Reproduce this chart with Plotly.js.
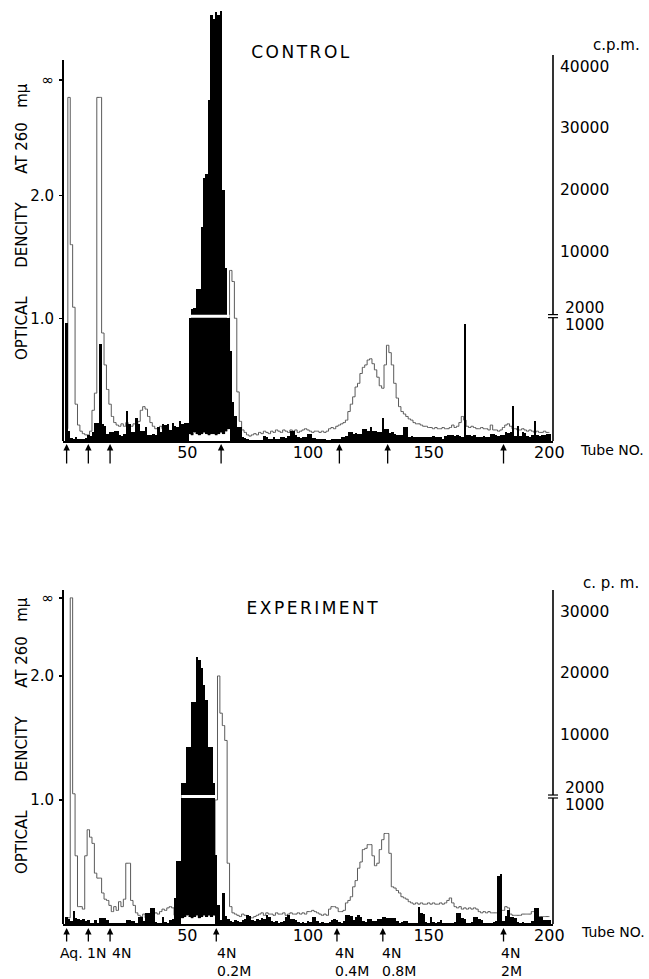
<!DOCTYPE html>
<html><head><meta charset="utf-8">
<script src="https://cdn.plot.ly/plotly-3.0.1.min.js"></script>
<style>
html,body{margin:0;padding:0;background:#fff;}
#chart{width:649px;height:979px;}
.annotation[data-index="0"] text,.annotation[data-index="1"] text{letter-spacing:2.5px;}
</style></head><body><div id="chart"></div>
<script>
// Tube numbers (x categories)
const tubes = Array.from({length: 201}, (_, i) => i);

// CONTROL: optical density at 260 mu (per tube)
const odControl = [
0.10,2.80,1.60,1.09,0.30,0.13,0.08,0.06,0.05,0.05,
0.08,0.25,0.39,2.80,2.80,0.88,0.62,0.42,0.30,0.20,
0.15,0.13,0.12,0.14,0.12,0.15,0.13,0.12,0.14,0.13,
0.16,0.25,0.28,0.26,0.20,0.15,0.12,0.10,0.10,0.12,
0.10,0.10,0.09,0.08,0.08,0.09,0.08,0.08,0.07,0.07,
0.07,0.06,0.05,0.07,0.06,0.05,0.06,0.07,0.06,0.05,
0.06,0.06,0.05,0.06,0.07,0.06,0.08,0.10,1.39,1.30,
1.00,0.40,0.16,0.09,0.07,0.05,0.04,0.05,0.06,0.05,
0.07,0.06,0.08,0.07,0.06,0.08,0.07,0.09,0.08,0.07,
0.09,0.08,0.07,0.09,0.08,0.09,0.07,0.08,0.09,0.10,
0.09,0.08,0.07,0.08,0.08,0.07,0.08,0.07,0.08,0.10,
0.11,0.10,0.12,0.13,0.14,0.15,0.17,0.24,0.30,0.36,
0.44,0.47,0.55,0.60,0.62,0.66,0.67,0.63,0.58,0.52,
0.45,0.43,0.62,0.78,0.72,0.62,0.47,0.35,0.28,0.24,
0.22,0.20,0.18,0.17,0.15,0.14,0.14,0.13,0.12,0.12,
0.11,0.11,0.10,0.11,0.10,0.10,0.11,0.10,0.10,0.11,
0.13,0.11,0.12,0.15,0.20,0.17,0.12,0.11,0.12,0.11,
0.10,0.10,0.11,0.10,0.10,0.09,0.13,0.09,0.09,0.08,
0.09,0.11,0.13,0.14,0.12,0.10,0.10,0.09,0.09,0.10,
0.09,0.08,0.09,0.08,0.07,0.08,0.07,0.07,0.08,0.07,
0.07];

// CONTROL: radioactivity, c.p.m. (per tube)
const cpmControl = [
960,85,25,20,30,20,15,20,25,45,
40,70,150,150,790,140,120,60,70,70,
85,80,45,40,55,240,140,70,70,190,
140,85,85,110,50,45,55,50,110,70,
140,130,140,90,150,125,110,165,140,150,
150,1000,2700,2900,5300,5300,14000,22000,22500,34600,
48500,47800,49000,48500,49200,20000,8000,1000,730,320,
200,110,110,30,25,20,10,12,10,8,
12,10,40,30,15,20,30,15,20,35,
35,25,40,85,85,50,30,25,35,35,
60,60,25,25,20,15,15,15,10,10,
15,15,20,20,35,35,40,70,70,60,
65,55,60,100,100,85,110,85,85,70,
70,190,100,100,65,70,60,50,45,50,
110,110,35,40,30,35,30,30,35,30,
30,35,40,35,30,35,20,40,45,50,
45,40,45,40,30,945,45,50,40,45,
35,30,35,40,30,35,60,55,45,40,
50,45,70,65,70,280,40,125,40,70,
65,40,35,45,165,45,40,50,45,55,
60];

// EXPERIMENT: optical density at 260 mu (per tube)
const odExp = [
0.05,0.05,2.63,1.05,0.55,0.14,0.14,0.12,0.55,0.76,
0.70,0.65,0.41,0.37,0.37,0.25,0.20,0.19,0.15,0.10,
0.14,0.11,0.18,0.14,0.20,0.49,0.49,0.19,0.15,0.09,
0.07,0.06,0.08,0.05,0.07,0.06,0.08,0.09,0.08,0.10,
0.12,0.11,0.13,0.14,0.13,0.07,0.06,0.07,0.05,0.06,
0.07,0.06,0.05,0.06,0.07,0.05,0.06,0.07,0.06,0.07,
0.06,0.07,1.00,2.00,1.70,1.60,1.48,0.49,0.14,0.09,
0.08,0.07,0.06,0.08,0.07,0.06,0.05,0.05,0.06,0.07,
0.08,0.09,0.07,0.09,0.08,0.08,0.07,0.09,0.08,0.08,
0.09,0.07,0.08,0.09,0.08,0.08,0.09,0.08,0.09,0.08,
0.10,0.10,0.11,0.10,0.09,0.08,0.07,0.08,0.07,0.12,
0.14,0.14,0.13,0.10,0.10,0.11,0.17,0.19,0.22,0.30,
0.35,0.45,0.50,0.60,0.61,0.64,0.64,0.55,0.47,0.49,
0.60,0.68,0.73,0.73,0.57,0.30,0.29,0.27,0.25,0.22,
0.21,0.20,0.18,0.17,0.16,0.17,0.16,0.17,0.16,0.16,
0.17,0.16,0.17,0.16,0.16,0.17,0.16,0.17,0.19,0.21,
0.17,0.14,0.13,0.14,0.12,0.13,0.12,0.13,0.12,0.13,
0.12,0.10,0.09,0.10,0.09,0.10,0.09,0.09,0.09,0.09,
0.11,0.11,0.14,0.13,0.08,0.07,0.07,0.07,0.07,0.08,
0.08,0.08,0.08,0.10,0.10,0.10,0.06,0.06,0.06,0.06,
0.06];

// EXPERIMENT: radioactivity, c.p.m. (per tube)
const cpmExp = [
55,40,20,100,45,40,35,40,25,30,
10,10,30,10,45,45,45,30,10,5,
5,5,5,5,10,30,30,20,20,10,
55,55,20,85,85,130,130,15,10,10,
55,15,10,30,40,210,500,500,3600,3600,
8400,8400,15300,15300,22600,22200,20800,18000,15600,8400,
8400,3600,550,150,30,250,60,40,20,15,
30,20,15,30,40,70,60,30,20,40,
30,50,40,70,55,20,15,20,10,15,
20,55,70,40,40,35,15,10,15,10,
20,15,55,55,20,10,15,10,10,15,
35,40,35,15,10,20,70,70,60,30,
55,70,55,20,15,40,40,20,25,40,
40,55,55,50,50,45,50,20,10,15,
25,25,10,5,10,10,135,85,80,15,
10,55,15,10,15,35,10,5,5,10,
5,15,85,85,45,40,10,5,15,55,
55,40,30,10,5,5,10,15,20,380,
400,20,60,110,55,55,50,15,10,15,
10,5,10,20,130,130,55,55,35,35,
30];

// Fraction-change arrows (tube numbers) and their labels
const arrowsControl = [0, 9, 18, 64, 113, 133, 181];
const arrowsExp = [0, 9, 18, 62, 112, 131, 181];
const arrowLabelsExp = ["Aq.", "1N", "4N", "4N<br>0.2M", "4N<br>0.4M", "4N<br>0.8M", "4N<br>2M"];

// Left axis ticks (O.D.) and right axis ticks (c.p.m., broken scale)
const odTickVals = [1, 2];
const odTickText = ["1.0", "2.0", "\u221e"];
const cpmTicksControl = [10000, 20000, 30000, 40000];
const cpmTicksExp = [10000, 20000, 30000];

// ---- scale geometry (broken c.p.m. axis) ----
const cpmKnotsCtrl = [0, 1000, 2000, 10000, 20000, 30000, 40000];
const cpmPosCtrl   = [0, 1.005, 1.030, 1.540, 2.046, 2.551, 3.048];
const cpmKnotsExp  = [0, 1000, 2000, 10000, 20000, 30000];
const cpmPosExp    = [0, 1.016, 1.040, 1.524, 2.024, 2.516];

function makeScale(knots, pos) {
  return function (v) {
    const n = knots.length;
    for (let i = 1; i < n; i++) {
      if (v <= knots[i]) return pos[i-1] + (v - knots[i-1]) / (knots[i] - knots[i-1]) * (pos[i] - pos[i-1]);
    }
    return pos[n-1] + (v - knots[n-1]) / (knots[n-1] - knots[n-2]) * (pos[n-1] - pos[n-2]);
  };
}
const scCtrl = makeScale(cpmKnotsCtrl, cpmPosCtrl);
const scExp = makeScale(cpmKnotsExp, cpmPosExp);

const W = 649, H = 979;
const FONT = "DejaVu Sans, sans-serif";
const py = y => (H - y) / H;
const xDom = [63 / W, 553 / W];
const ctrlDom = [py(441), py(5)];
const expDom = [py(924), py(560)];
const ctrlRange = [0, 3.553];
const expRange = [0, 2.935];
const ctrlPx = 436 / 3.553, expPx = 364 / 2.935;
const ctrlInf = 2.94, expInf = 2.63;

function panelTraces(cpm, od, sc, xa, yOD, yCPM) {
  const base = cpm.map((c, i) => c >= 1000 ? od[i] : 0);
  const h = cpm.map((c, i) => sc(c) - base[i]);
  const over = tubes.filter((t, i) => cpm[i] >= 1000);
  const sy = (sc(1000) + sc(2000)) / 2;
  return [
    {type: 'bar', x: tubes, y: h, base: base, xaxis: xa, yaxis: yCPM, width: 1,
     marker: {color: '#000', line: {width: 0}}, hoverinfo: 'skip', showlegend: false},
    {type: 'scatter', mode: 'lines', x: tubes, y: od, xaxis: xa, yaxis: yOD,
     line: {color: '#5a5a5a', width: 1, shape: 'hvh'}, hoverinfo: 'skip', showlegend: false},
    {type: 'scatter', mode: 'lines', x: [Math.min(...over) - 0.5, Math.max(...over) + 0.5], y: [sy, sy],
     xaxis: xa, yaxis: yCPM, line: {color: '#fff', width: 3}, hoverinfo: 'skip', showlegend: false}
  ];
}

const data = [
  ...panelTraces(cpmControl, odControl, scCtrl, 'x', 'y', 'y2'),
  ...panelTraces(cpmExp, odExp, scExp, 'x2', 'y3', 'y4')
];

const xCommon = {
  domain: xDom, range: [-1.5, 201.5], showgrid: false, zeroline: false,
  showline: true, linecolor: '#000', linewidth: 2, ticks: '',
  tickvals: [50, 100, 150, 200], tickfont: {family: FONT, size: 16, color: '#000'},
  ticklabelstandoff: -4, fixedrange: true
};
function yLeft(dom, range, inf, anchor) {
  return {domain: dom, range: range, anchor: anchor, showgrid: false, zeroline: false, showline: false,
    tickvals: odTickVals.concat([inf]), ticktext: odTickText, ticks: 'outside', ticklen: 3, tickwidth: 1.5,
    tickcolor: '#000', tickfont: {family: FONT, size: 15, color: '#000'}, ticklabelstandoff: 2};
}
// broken-scale labels: "2000" just above the break, "1000" just below it
function yRight(overl, range, sc, ticks, anchor, pxPerUnit) {
  const mid = (sc(1000) + sc(2000)) / 2;
  const off = 8.5 / pxPerUnit;
  return {overlaying: overl, side: 'right', anchor: anchor, range: range, showgrid: false, zeroline: false,
    showline: false, tickvals: [mid + off, mid - off].concat(ticks.map(sc)),
    ticktext: ['\u00a02000', '\u00a01000'].concat(ticks.map(String)), ticks: '',
    tickfont: {family: FONT, size: 15.5, color: '#000'}, ticklabelstandoff: 6};
}

const shapes = [];
function axisShapes(xa, yOD, yCPM, leftTop, rightTop, sc) {
  shapes.push({type: 'line', xref: xa + ' domain', yref: yOD, x0: 0, x1: 0, y0: 0, y1: leftTop, line: {color: '#000', width: 2}});
  shapes.push({type: 'line', xref: xa + ' domain', yref: yCPM, x0: 1, x1: 1, y0: 0, y1: rightTop, line: {color: '#000', width: 1.6}});
  const d = 5 / 490;
  shapes.push({type: 'rect', xref: xa + ' domain', yref: yCPM, x0: 1 - 2 / 490, x1: 1 + 2 / 490, y0: sc(1000), y1: sc(2000), line: {width: 0}, fillcolor: '#fff'});
  shapes.push({type: 'line', xref: xa + ' domain', yref: yCPM, x0: 1 - d, x1: 1 + d, y0: sc(1000), y1: sc(1000), line: {color: '#000', width: 1.2}});
  shapes.push({type: 'line', xref: xa + ' domain', yref: yCPM, x0: 1 - d, x1: 1 + d, y0: sc(2000), y1: sc(2000), line: {color: '#000', width: 1.2}});
}
axisShapes('x', 'y', 'y2', 3.105, 3.146, scCtrl);
axisShapes('x2', 'y3', 'y4', 2.694, 2.694, scExp);

const nb = n => '\u00a0'.repeat(n);
const yTitle = 'OPTICAL' + nb(6) + 'DENCITY' + nb(6) + 'AT 260' + nb(3) + 'm\u03bc';
const tf = (s) => ({family: FONT, size: s, color: '#000'});
const txt = (text, x, y, size, extra) => Object.assign({text: text, xref: 'paper', yref: 'paper', x: x / W, y: py(y),
  showarrow: false, font: tf(size), xanchor: 'center', yanchor: 'middle'}, extra || {});
const annotations = [
  txt('CONTROL', 302, 52, 17),
  txt('EXPERIMENT', 313, 608, 17),
  txt(yTitle, 22, 222, 15, {textangle: -90}),
  txt(yTitle, 22, 736, 15, {textangle: -90}),
  txt('c.p.m.', 616, 45, 15),
  txt('c. p. m.', 611, 583, 15),
  txt('Tube NO.', 612, 450, 14),
  txt('Tube NO.', 613, 932, 14)
];
arrowsControl.forEach(t => annotations.push({text: '', xref: 'x', x: t, yref: 'paper', y: py(444), ax: 0, ay: 21,
  showarrow: true, arrowhead: 2, arrowsize: 1, arrowwidth: 1.3, arrowcolor: '#000'}));
arrowsExp.forEach(t => annotations.push({text: '', xref: 'x2', x: t, yref: 'paper', y: py(928), ax: 0, ay: 15,
  showarrow: true, arrowhead: 2, arrowsize: 1, arrowwidth: 1.3, arrowcolor: '#000'}));
const labelShift = [-9, -3, 0, -1, -4, -3, -5];
arrowsExp.forEach((t, i) => annotations.push({text: arrowLabelsExp[i], xref: 'x2', x: t, xanchor: 'left', xshift: labelShift[i],
  yref: 'paper', y: py(943), yanchor: 'top', align: 'left', showarrow: false, font: tf(14)}));

const layout = {
  width: W, height: H, margin: {l: 0, r: 0, t: 0, b: 0},
  paper_bgcolor: '#fff', plot_bgcolor: 'rgba(0,0,0,0)', showlegend: false, bargap: 0,
  xaxis: Object.assign({}, xCommon, {anchor: 'y'}),
  xaxis2: Object.assign({}, xCommon, {anchor: 'y3'}),
  yaxis: yLeft(ctrlDom, ctrlRange, ctrlInf, 'x'),
  yaxis2: yRight('y', ctrlRange, scCtrl, cpmTicksControl, 'x', ctrlPx),
  yaxis3: yLeft(expDom, expRange, expInf, 'x2'),
  yaxis4: yRight('y3', expRange, scExp, cpmTicksExp, 'x2', expPx),
  shapes: shapes, annotations: annotations, font: {family: FONT, color: '#000'}
};

Plotly.newPlot('chart', data, layout, {staticPlot: true, displayModeBar: false});
</script></body></html>
